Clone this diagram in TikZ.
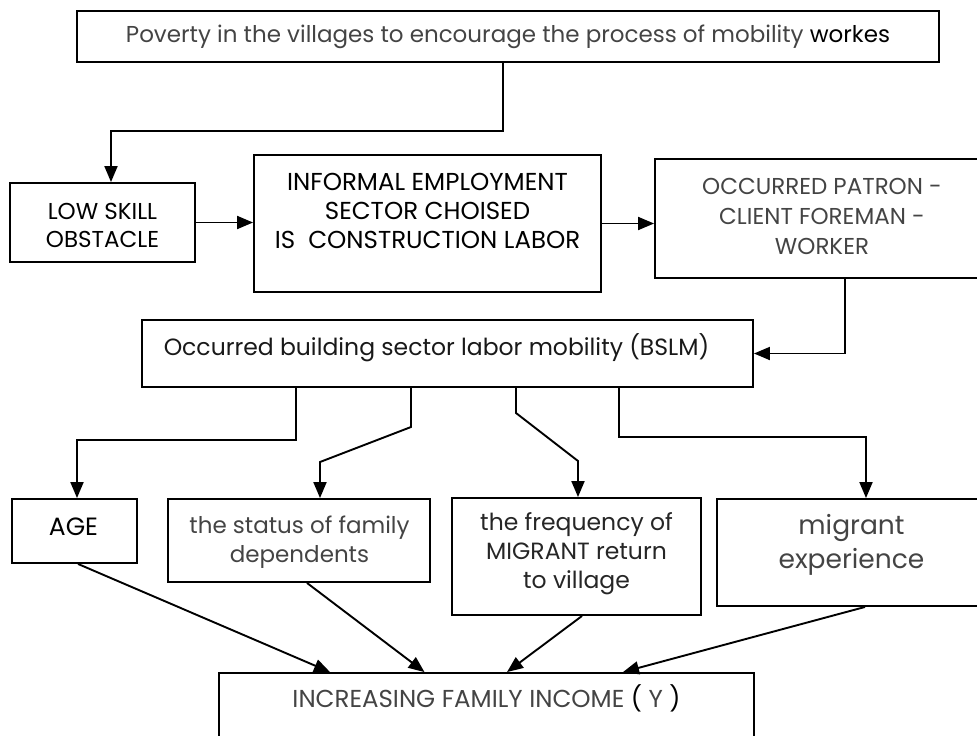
\documentclass[tikz,border=0pt]{standalone}
\usepackage{fontspec}
\setmainfont{Poppins}
\usetikzlibrary{arrows.meta}
\definecolor{txtgray}{HTML}{444444}
\begin{document}
\begin{tikzpicture}[x=1pt,y=-1pt,
  box/.style={draw=black, line width=1.9pt, inner sep=0pt},
  arr/.style={line width=1.9pt, -{Triangle[length=16pt,width=13pt]}},
  lbl/.style={align=center, inner sep=0pt}]
\useasboundingbox (0,0) rectangle (977,736);
% boxes
\node[box, minimum width=862pt, minimum height=51pt] (top) at (508,36.5) {};
\node[box, minimum width=185pt, minimum height=79pt] (low) at (102.5,222.5) {};
\node[box, minimum width=347pt, minimum height=137pt] (inf) at (427.5,223.5) {};
\node[box, minimum width=330pt, minimum height=119pt] (occ) at (820,218.5) {};
\node[box, minimum width=611pt, minimum height=67pt] (bslm) at (447.5,353.5) {};
\node[box, minimum width=125pt, minimum height=64pt] (age) at (74.5,531) {};
\node[box, minimum width=262pt, minimum height=83pt] (status) at (299,540.5) {};
\node[box, minimum width=249pt, minimum height=117pt] (freq) at (576.5,556.5) {};
\node[box, minimum width=273pt, minimum height=107pt] (mig) at (853.5,552.5) {};
\node[box, minimum width=535pt, minimum height=80pt] (inc) at (486.5,713) {};
% texts
\node[lbl, font=\fontsize{23}{29}\selectfont, text=txtgray] (ttop) at (508,37) {Poverty in the villages to encourage the process of mobility \textcolor{black}{workes}};
\node[lbl, font=\fontsize{23}{28}\selectfont] (tlow) at (102.5,225) {LOW SKILL\\OBSTACLE};
\node[lbl, font=\fontsize{24.5}{29}\selectfont] (tinf) at (427.5,211) {INFORMAL EMPLOYMENT\\SECTOR CHOISED\\IS\ \ CONSTRUCTION LABOR};
\node[lbl, font=\fontsize{23}{30}\selectfont, text=txtgray] (tocc) at (822,216) {OCCURRED PATRON -\\CLIENT FOREMAN -\\WORKER};
\node[lbl, font=\fontsize{23.5}{29}\selectfont, text=black!90] (tbslm) at (436.5,348) {Occurred building sector labor mobility (BSLM)};
\node[lbl, font=\fontsize{25}{29}\selectfont] (tage) at (73.5,527) {AGE};
\node[lbl, font=\fontsize{23}{29}\selectfont, text=txtgray] (tstatus) at (299.5,542.5) {the status of family\\dependents};
\node[lbl, font=\fontsize{23.5}{29}\selectfont, text=black!85] (tfreq) at (576.5,554) {the frequency of\\MIGRANT return\\to village};
\node[lbl, font=\fontsize{26.5}{34}\selectfont, text=txtgray] (tmig) at (851.5,545) {migrant\\experience};
\node[lbl, font=\fontsize{24.5}{29}\selectfont, text=txtgray] (tinc) at (486.5,698) {INCREASING FAMILY INCOME \textcolor{black}{(} Y \textcolor{black}{)}};
% bend coordinates
\coordinate (b1) at (111,131);
\coordinate (c2) at (845,353.5);
\coordinate (d1) at (296,440);
\coordinate (e1) at (411,427);
\coordinate (e2) at (320,462);
\coordinate (f1) at (516,413);
\coordinate (f2) at (578,461);
\coordinate (g1) at (619,437);
% connectors
\draw[arr] ([xshift=-5pt]top.south) |- (b1) -- (b1 |- low.north);
\draw[arr] (low.east) -- (low.east -| inf.west);
\draw[arr] (inf.east) -- (inf.east -| occ.west);
\draw[arr] (c2 |- occ.south) |- (bslm.east);
\draw[arr] (d1 |- bslm.south) -- (d1) -| ([xshift=2.5pt]age.north);
\draw[arr] (e1 |- bslm.south) -- (e1) -- (e2) -- (e2 |- status.north);
\draw[arr] (f1 |- bslm.south) -- (f1) -- (f2) -- (f2 |- freq.north);
\draw[arr] (g1 |- bslm.south) -- (g1) -| ([xshift=12.5pt]mig.north);
\draw[arr] ([xshift=3.5pt]age.south) -- ([xshift=-156.5pt]inc.north);
\draw[arr] ([xshift=8pt]status.south) -- ([xshift=-62pt]inc.north);
\draw[arr] ([xshift=5.5pt]freq.south) -- ([xshift=20.5pt]inc.north);
\draw[arr] ([xshift=11.5pt]mig.south) -- ([xshift=136.5pt]inc.north);
\end{tikzpicture}
\end{document}
